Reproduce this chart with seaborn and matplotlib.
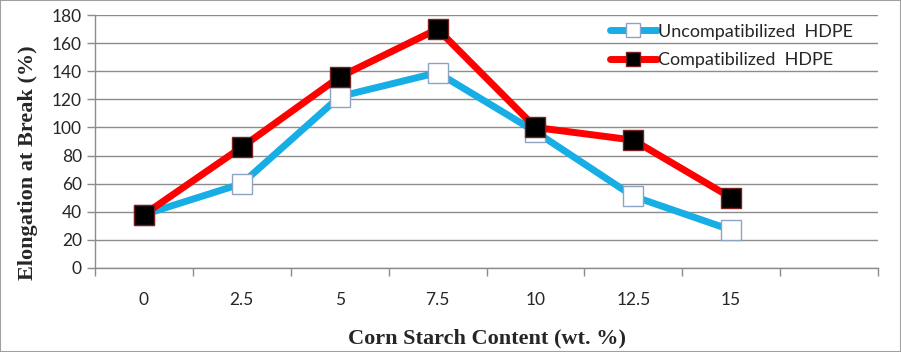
import pandas as pd
import matplotlib.pyplot as plt
import seaborn as sns
from matplotlib.ticker import FixedLocator, NullFormatter
from matplotlib.lines import Line2D
from matplotlib.patches import Rectangle

# Data
starch = ["0", "2.5", "5", "7.5", "10", "12.5", "15"]
uncompat = [38, 60, 122, 139, 97, 51, 27]
compat = [38, 86, 136, 170, 100, 91, 50]

df = pd.DataFrame({
    "pos": list(range(len(starch))) * 2,
    "value": uncompat + compat,
    "series": ["Uncompatibilized  HDPE"] * len(starch) + ["Compatibilized  HDPE"] * len(starch),
})

sns.set_style("white")
plt.rcParams['font.family'] = ['Lato', 'DejaVu Sans']

fig = plt.figure(figsize=(9.01, 3.52), dpi=100)
ax = fig.add_axes([95 / 901, 84 / 352, 783 / 901, 253 / 352])

blue = "#17AEE6"
red = "#FF0000"
styles = {
    "Uncompatibilized  HDPE": dict(color=blue, mfc="white", mec="#8EA3C4"),
    "Compatibilized  HDPE": dict(color=red, mfc="black", mec="#7A1F1F"),
}

for name, st in styles.items():
    sub = df[df["series"] == name]
    sns.lineplot(data=sub, x="pos", y="value", ax=ax, color=st["color"], lw=5,
                 marker="s", markersize=14, markerfacecolor=st["mfc"],
                 markeredgecolor=st["mec"], markeredgewidth=1, legend=False)

ax.set_xlim(-0.5, 7.5)
ax.set_ylim(0, 180)
ax.set_yticks(range(0, 181, 20))
ax.yaxis.grid(True, color="#8C8C8C", lw=1)
ax.set_axisbelow(True)

ax.set_xticks(range(len(starch)))
ax.set_xticklabels(starch)
ax.xaxis.set_minor_locator(FixedLocator([i - 0.5 for i in range(9)]))
ax.xaxis.set_minor_formatter(NullFormatter())
ax.tick_params(axis="x", which="major", length=0, pad=17, labelsize=12.5)
ax.tick_params(axis="x", which="minor", length=6, width=1, color="#8C8C8C", direction="out", bottom=True)
ax.tick_params(axis="y", length=6, width=1, color="#8C8C8C", direction="out", left=True, labelsize=12.5)

for side in ["top", "right"]:
    ax.spines[side].set_visible(False)
for side in ["left", "bottom"]:
    ax.spines[side].set_color("#8C8C8C")
    ax.spines[side].set_linewidth(1)

ax.set_xlabel("Corn Starch Content (wt. %)", family="Liberation Serif", fontweight="bold",
              fontsize=16, labelpad=15)
ax.set_ylabel("Elongation at Break (%)", family="Liberation Serif", fontweight="bold",
              fontsize=16)
ax.yaxis.set_label_coords(-0.073, 0.415)

handles = [
    Line2D([], [], color=st["color"], lw=5, marker="s", markersize=10,
           markerfacecolor=st["mfc"], markeredgecolor=st["mec"])
    for st in styles.values()
]
ax.legend(handles, list(styles.keys()), loc="upper left", bbox_to_anchor=(0.637, 1.03),
          frameon=False, handlelength=2.6, handletextpad=0.05, labelspacing=0.7, fontsize=13)

fig.patches.append(Rectangle((0, 0), 1, 1, transform=fig.transFigure, fill=False,
                             edgecolor="#A0A0A0", lw=1.5))

fig.savefig("out.png", dpi=100)
plt.close(fig)
